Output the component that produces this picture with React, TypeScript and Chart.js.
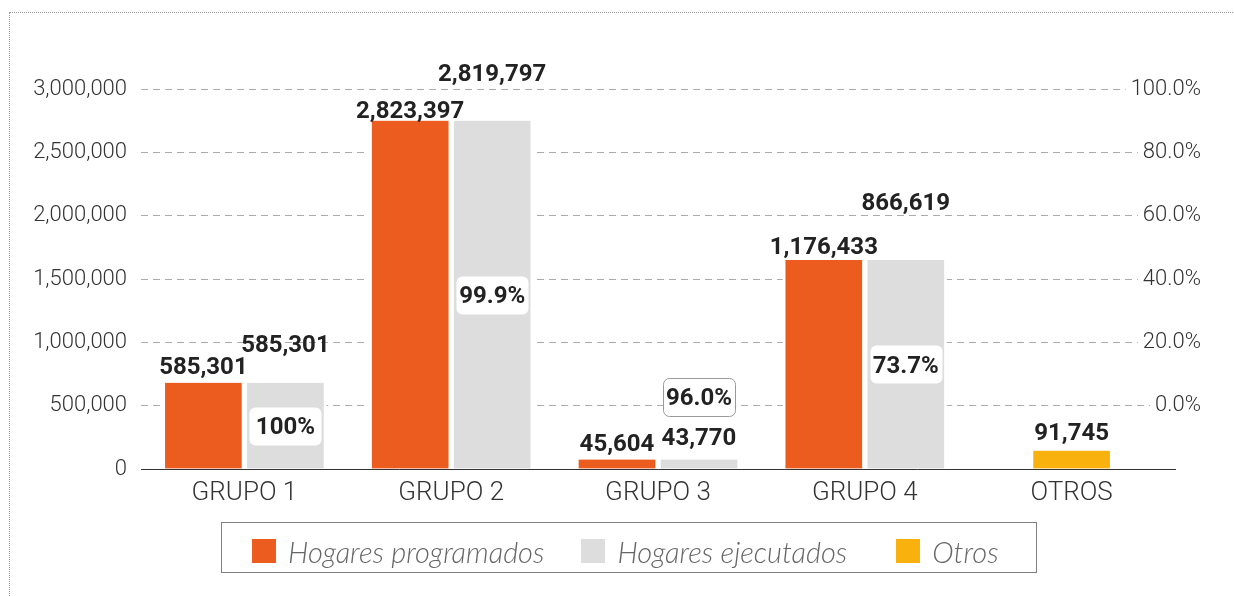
import React, { useEffect, useRef } from 'react';
import { Chart, registerables } from 'chart.js';

Chart.register(...registerables);

// ---- data ----
const categories = ['GRUPO 1', 'GRUPO 2', 'GRUPO 3', 'GRUPO 4', 'OTROS'];
const seriesNames = ['Hogares programados', 'Hogares ejecutados', 'Otros'];
const seriesColors = ['#EB5C1E', '#DDDDDD', '#F8B10D'];

// bar heights as drawn in the picture
const programadosBar = [680000, 2750000, 75000, 1650000, null];
const ejecutadosBar = [680000, 2750000, 75000, 1650000, null];
const otrosBar = [null, null, null, null, 145000];

// value labels printed above the bars
const programadosLabel = [585301, 2823397, 45604, 1176433, null];
const ejecutadosLabel = [585301, 2819797, 43770, 866619, null];
const otrosLabel = [null, null, null, null, 91745];

// % executed (boxes on the grey bars)
const ejecucionPct = [100, 99.9, 96.0, 73.7, null];

// axes
const leftAxis = { min: 0, max: 3000000, step: 500000 };
const rightAxis = { min: -20, max: 100, step: 20 };

const fmtNum = (v: number) => v.toLocaleString('en-US');
const fmtPct = (v: number) => (v === 100 ? '100%' : v.toFixed(1) + '%');

const labelPlugin = {
  id: 'valueLabels',
  afterDatasetsDraw(chart: any, _args: any, opts: any) {
    const ctx = chart.ctx as CanvasRenderingContext2D;
    ctx.save();
    ctx.font = '700 24px Roboto';
    ctx.textAlign = 'center';
    ctx.textBaseline = 'alphabetic';
    const baseY: number[][] = [];
    opts.values.forEach((vals: (number | null)[], di: number) => {
      const meta = chart.getDatasetMeta(di);
      baseY[di] = [];
      vals.forEach((v, i) => {
        const bar = meta.data[i];
        if (v == null || !bar) return;
        const y = bar.y - opts.lift[di][i];
        baseY[di][i] = y;
        ctx.fillStyle = '#222';
        ctx.fillText(fmtNum(v), bar.x, y);
      });
    });
    const di = opts.pctDataset;
    const meta = chart.getDatasetMeta(di);
    const bw = 72;
    const bh = 38;
    opts.pct.forEach((p: number | null, i: number) => {
      const bar = meta.data[i];
      if (p == null || !bar) return;
      const h = bar.base - bar.y;
      let cy: number;
      let floating = false;
      if (h > bh + 12) {
        cy = (bar.y + bar.base) / 2;
      } else {
        cy = baseY[di][i] - 48;
        floating = true;
      }
      const x0 = Math.round(bar.x - bw / 2) + 0.5;
      const y0 = Math.round(cy - bh / 2) + 0.5;
      ctx.beginPath();
      (ctx as any).roundRect(x0, y0, bw, bh, 6);
      ctx.fillStyle = '#ffffff';
      ctx.fill();
      if (floating) {
        ctx.strokeStyle = '#9a9a9a';
        ctx.lineWidth = 1;
        ctx.stroke();
      }
      ctx.fillStyle = '#222';
      ctx.fillText(fmtPct(p), bar.x, cy + 8.5);
    });
    ctx.restore();
  },
};

const legendGaps = [37, 49, 0];

export default function App() {
  const canvasRef = useRef<HTMLCanvasElement | null>(null);

  useEffect(() => {
    if (!canvasRef.current) return;
    const barCommon = {
      barThickness: 82,
      skipNull: true,
      borderColor: '#ffffff',
      borderWidth: { left: 3, right: 3, top: 0, bottom: 0 },
      borderSkipped: false,
      yAxisID: 'y',
    };
    const chart = new Chart(canvasRef.current, {
      type: 'bar',
      data: {
        labels: categories,
        datasets: [
          { label: seriesNames[0], data: programadosBar, backgroundColor: seriesColors[0], ...barCommon },
          { label: seriesNames[1], data: ejecutadosBar, backgroundColor: seriesColors[1], ...barCommon },
          { label: seriesNames[2], data: otrosBar, backgroundColor: seriesColors[2], ...barCommon },
        ] as any,
      },
      options: {
        responsive: false,
        animation: false,
        events: [],
        layout: { padding: { left: 0, right: 33, top: 89, bottom: 0 } },
        plugins: {
          legend: { display: false },
          tooltip: { enabled: false },
          valueLabels: {
            values: [programadosLabel, ejecutadosLabel, otrosLabel],
            lift: [
              [9, 3, 9, 6, 0],
              [31, 40, 15, 50, 0],
              [0, 0, 0, 0, 11],
            ],
            pct: ejecucionPct,
            pctDataset: 1,
          },
        } as any,
        scales: {
          x: {
            type: 'category',
            offset: true,
            grid: { display: false, drawTicks: false },
            border: { display: true, color: '#333333', width: 1 },
            ticks: {
              font: { family: 'Roboto', size: 26, weight: '300' as any },
              color: '#333333',
              padding: 9,
              maxRotation: 0,
              autoSkip: false,
            },
            afterFit: (s: any) => {
              s.height = 127;
            },
          },
          y: {
            position: 'left',
            min: leftAxis.min,
            max: leftAxis.max,
            ticks: {
              stepSize: leftAxis.step,
              callback: (v: any) => fmtNum(Number(v)),
              font: { family: 'Roboto', size: 22, weight: '300' as any },
              color: '#333333',
              padding: 14,
            },
            grid: {
              color: (c: any) => (c.tick && c.tick.value === 0 ? 'rgba(0,0,0,0)' : '#ababab'),
              drawTicks: false,
              lineWidth: 1,
            },
            border: { display: false, dash: [7, 5] },
            afterFit: (s: any) => {
              s.width = 141;
            },
          },
          y1: {
            position: 'right',
            min: rightAxis.min,
            max: rightAxis.max,
            ticks: {
              stepSize: rightAxis.step,
              callback: (v: any) => (Number(v) < 0 ? '' : Number(v).toFixed(1) + '%'),
              font: { family: 'Roboto', size: 22, weight: '300' as any },
              color: '#333333',
              mirror: true,
              padding: 26,
              crossAlign: 'near',
              showLabelBackdrop: true,
              backdropColor: '#ffffff',
              backdropPadding: { left: 5, right: 0, top: 1, bottom: 1 },
            } as any,
            grid: { display: false, drawTicks: false },
            border: { display: false },
            afterFit: (s: any) => {
              s.width = 26;
            },
          },
        } as any,
      },
      plugins: [labelPlugin],
    });
    return () => chart.destroy();
  }, []);

  return (
    <div
      style={{
        position: 'fixed',
        left: 0,
        top: 0,
        width: 1234,
        height: 596,
        overflow: 'hidden',
        background: '#ffffff',
      }}
    >
      <div
        style={{
          position: 'absolute',
          left: 9,
          top: 12,
          width: 1400,
          height: 800,
          border: '1px dotted #9a9a9a',
        }}
      />
      <canvas
        ref={canvasRef}
        width={1234}
        height={596}
        style={{ position: 'absolute', left: 0, top: 0, width: 1234, height: 596 }}
      />
      <div
        style={{
          position: 'absolute',
          left: 221,
          top: 522,
          width: 816,
          height: 51,
          boxSizing: 'border-box',
          border: '1px solid #808080',
          paddingTop: 7,
          paddingLeft: 30,
          display: 'flex',
          alignItems: 'center',
          fontFamily: 'Lato',
          fontStyle: 'italic',
          fontWeight: 300,
          fontSize: 29,
          color: '#666666',
          whiteSpace: 'nowrap',
        }}
      >
        {seriesNames.map((n, i) => (
          <div key={n} style={{ display: 'flex', alignItems: 'center', marginRight: legendGaps[i] }}>
            <span
              style={{
                display: 'inline-block',
                width: 24,
                height: 24,
                background: seriesColors[i],
                marginRight: 12,
              }}
            />
            <span>{n}</span>
          </div>
        ))}
      </div>
    </div>
  );
}
